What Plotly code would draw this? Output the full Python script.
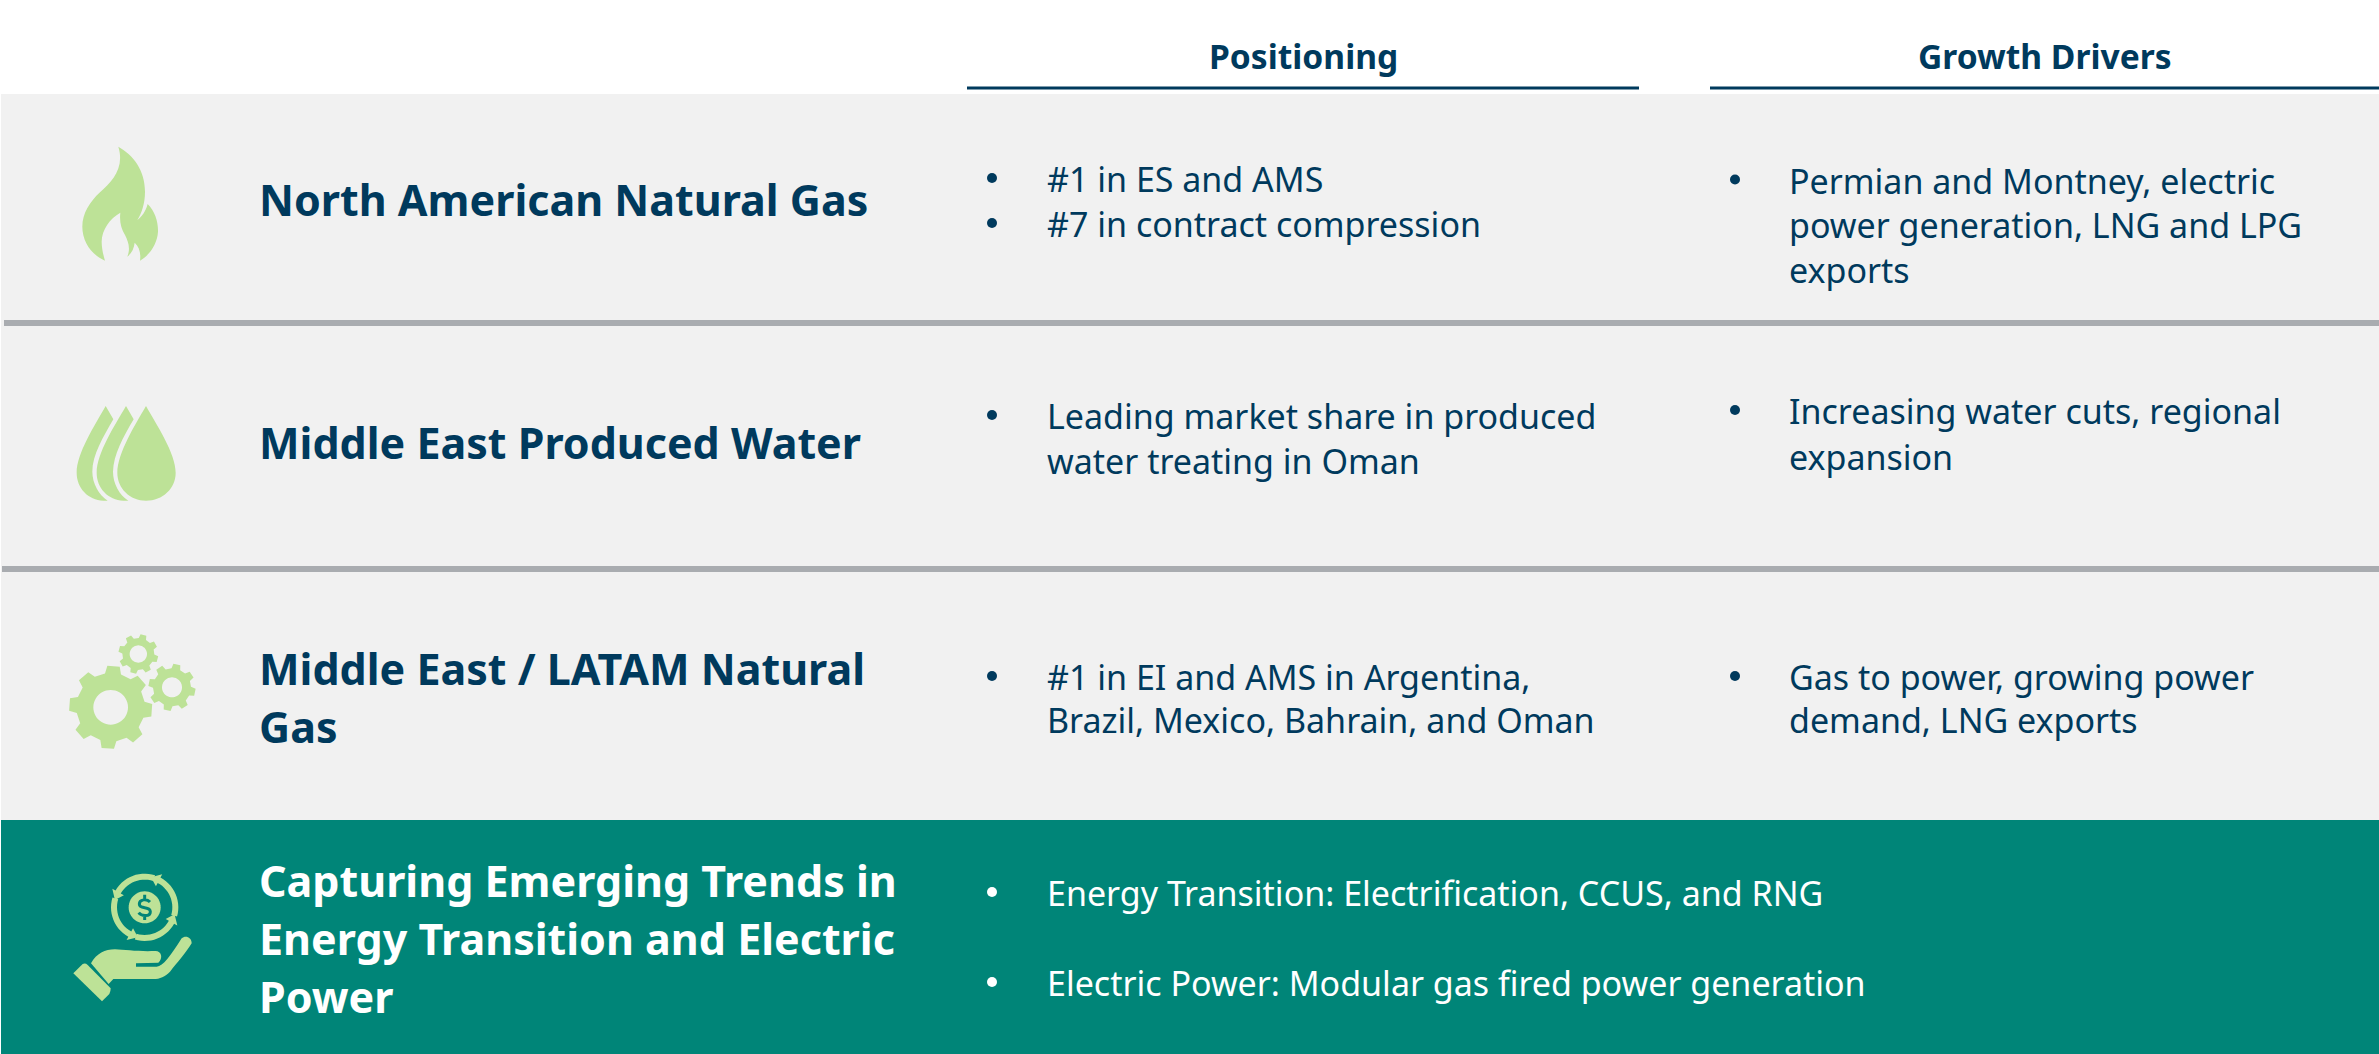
import math, re
import plotly.graph_objects as go

# ---------- content ----------
headers = ["Positioning", "Growth Drivers"]
row_titles = [
    ["North American Natural Gas"],
    ["Middle East Produced Water"],
    ["Middle East / LATAM Natural", "Gas"],
    ["Capturing Emerging Trends in", "Energy Transition and Electric", "Power"],
]
positioning = [
    [["#1 in ES and AMS"], ["#7 in contract compression"]],
    [["Leading market share in produced", "water treating in Oman"]],
    [["#1 in EI and AMS in Argentina,", "Brazil, Mexico, Bahrain, and Oman"]],
]
drivers = [
    [["Permian and Montney, electric", "power generation, LNG and LPG", "exports"]],
    [["Increasing water cuts, regional", "expansion"]],
    [["Gas to power, growing power", "demand, LNG exports"]],
]
emerging = ["Energy Transition: Electrification, CCUS, and RNG",
            "Electric Power: Modular gas fired power generation"]

# ---------- style ----------
W, H = 2379, 1054
NAVY = "#003A5D"
PANEL = "#F1F1F1"
TEAL = "#008578"
RULE = "#A9ACB0"
ICON = "#BDE297"
FONT = "Noto Sans"
TITLE_SIZE = 43
BODY_SIZE = 34
HEAD_SIZE = 33.6
TEXT_DY = 1.2

shapes, notes = [], []
bullet_x, bullet_y, bullet_c = [], [], []

def rect(x0, y0, x1, y1, color):
    shapes.append(dict(type="rect", x0=x0, y0=y0, x1=x1, y1=y1, fillcolor=color,
                       line=dict(width=0), layer="below"))

def text(x, y, s, size, color=NAVY, bold=False, anchor="left"):
    notes.append(dict(x=x, y=y, text=f"<b>{s}</b>" if bold else s, showarrow=False,
                      xanchor=anchor, yanchor="middle", align=anchor,
                      font=dict(family=FONT, size=size, color=color)))

def bullet(x, y, color=NAVY):
    bullet_x.append(x); bullet_y.append(y); bullet_c.append(color)

def z2f(path, oy):
    """crop coordinates (3x zoom) to figure pixels"""
    return re.sub(r"(-?[\d.]+),(-?[\d.]+)",
                  lambda m: f"{float(m[1])/3:.2f},{float(m[2])/3+oy:.2f}", path)

def icon(path, oy, color=ICON):
    shapes.append(dict(type="path", path=z2f(path, oy), fillcolor=color,
                       line=dict(width=0), layer="above"))

def circle_pts(cx, cy, r, n=48, rev=False):
    a = [2*math.pi*i/n for i in range(n)]
    if rev:
        a = a[::-1]
    return [(cx+r*math.cos(t), cy+r*math.sin(t)) for t in a]

def poly(pts):
    return "M" + " L".join(f"{x:.1f},{y:.1f}" for x, y in pts) + " Z"

def gear(cx, cy, ro, rr, rh, n, rot):
    pts = []
    step = 360/n
    for i in range(n):
        c = rot + i*step
        for da, r in [(-0.30, rr), (-0.19, ro), (0.19, ro), (0.30, rr)]:
            t = math.radians(c + da*step)
            pts.append((cx+r*math.sin(t), cy-r*math.cos(t)))
    return poly(pts) + " " + poly(circle_pts(cx, cy, rh, rev=True))

def arrow_arc(cx, cy, rm, hw, a0, a1, hl, hh):
    out, inner = [], []
    steps = 14
    for i in range(steps+1):
        t = math.radians(a0 + (a1-a0)*i/steps)
        out.append((cx+(rm+hw)*math.cos(t), cy-(rm+hw)*math.sin(t)))
        inner.append((cx+(rm-hw)*math.cos(t), cy-(rm-hw)*math.sin(t)))
    t = math.radians(a1)
    tt = t + hl/rm
    head = [(cx+(rm+hh)*math.cos(t), cy-(rm+hh)*math.sin(t)),
            (cx+rm*math.cos(tt), cy-rm*math.sin(tt)),
            (cx+(rm-hh)*math.cos(t), cy-(rm-hh)*math.sin(t))]
    return poly(out + head + inner[::-1])

# ---------- panels ----------
rect(1, 94, W, 820, PANEL)
rect(1, 820, W, H, TEAL)
rect(4, 320, W, 326, RULE)
rect(2, 566, W, 572, RULE)
rect(967, 86.5, 1639, 89.5, NAVY)
rect(1710, 86.5, W, 89.5, NAVY)

# ---------- headers ----------
text(1303, 56, headers[0], HEAD_SIZE, bold=True, anchor="center")
text(2045, 56, headers[1], HEAD_SIZE, bold=True, anchor="center")

# ---------- row titles ----------
title_y = [[199], [442], [668, 726], [880, 938, 996]]
for i, (lines, ys) in enumerate(zip(row_titles, title_y)):
    for s, y in zip(lines, ys):
        text(256.5, y, s, TITLE_SIZE, color="white" if i == 3 else NAVY, bold=True)

# ---------- body columns ----------
pos_y = [[[178], [223]], [[415, 460]], [[676, 719]]]
drv_y = [[[179.5, 224, 269]], [[410, 456]], [[676, 719]]]
for data, ys, bx, tx in [(positioning, pos_y, 992, 1044.5), (drivers, drv_y, 1735, 1786.5)]:
    for row, row_y in zip(data, ys):
        for item, item_y in zip(row, row_y):
            bullet(bx, item_y[0])
            for s, y in zip(item, item_y):
                text(tx, y + TEXT_DY, s, BODY_SIZE)

for s, y in zip(emerging, [892, 982]):
    bullet(992, y, "white")
    text(1044.5, y + TEXT_DY, s, BODY_SIZE, color="white")

# ---------- icons ----------
icon("M355,140 C400,165 435,210 435,275 C435,310 425,340 412,360 C425,350 437,335 443,312 "
     "C465,335 475,365 474,395 C472,430 450,465 420,482 C423,460 418,440 404,428 "
     "C402,445 395,460 382,470 C392,445 385,425 375,405 C363,385 358,365 361,338 "
     "C330,355 305,390 305,425 C305,445 310,465 315,482 C275,465 247,425 247,380 "
     "C247,340 270,305 300,277 C335,245 375,205 355,140 Z", 100)

icon("M438,918 C470,975 527,1060 527,1118 C527,1165 488,1202 438,1202 "
     "C390,1202 352,1165 352,1118 C352,1060 405,975 438,918 Z", 100)
icon("M378,918 L401,958 C370,1010 340,1065 339,1115 C339,1150 358,1185 385,1202 L370,1202 "
     "C325,1200 290,1165 290,1118 C290,1060 345,975 378,918 Z", 100)
icon("M317,918 L340,958 C310,1010 277,1065 277,1115 C277,1150 297,1185 323,1202 L310,1202 "
     "C265,1200 230,1165 230,1118 C230,1060 285,975 317,918 Z", 100)

icon(gear(332, 382, 125, 103, 52, 8, 4), 580)
icon(gear(415, 222, 60, 48, 26, 8, 15), 580)
icon(gear(516, 322, 71, 57, 30, 8, 12), 580)

for a0, a1 in [(72, 150), (163, 241), (253, 331), (344, 422)]:
    icon(arrow_arc(434, 982, 92, 9, a0, a1, 26, 20), 580)
icon(poly(circle_pts(434, 982, 48)), 580)
shapes.append(dict(type="path",
                   path=z2f("M450,966 C440,955 418,958 418,972 C418,990 451,976 451,995 "
                            "C451,1010 425,1010 416,998 M434,944 L434,958 M434,1008 L434,1020", 580),
                   line=dict(color=TEAL, width=3), layer="above"))
icon("M220,1180 L248,1152 Q256,1148 263,1155 L332,1225 Q332,1235 328,1242 L306,1264 Z", 580)
icon("M273,1150 C290,1120 315,1108 345,1108 C375,1110 420,1115 465,1113 C485,1112 490,1135 475,1148 "
     "L408,1150 L408,1160 L470,1160 C490,1158 510,1130 545,1075 C555,1065 575,1070 575,1090 "
     "C560,1115 530,1150 510,1175 C495,1190 480,1197 460,1197 L340,1197 L326,1212 Z", 580)

# ---------- figure ----------
fig = go.Figure(go.Scatter(x=bullet_x, y=bullet_y, mode="markers", hoverinfo="skip",
                           marker=dict(size=10, color=bullet_c, line=dict(width=0))))
fig.update_layout(
    width=W, height=H, margin=dict(l=0, r=0, t=0, b=0),
    paper_bgcolor="white", plot_bgcolor="white", showlegend=False,
    xaxis=dict(range=[0, W], visible=False, fixedrange=True),
    yaxis=dict(range=[H, 0], visible=False, fixedrange=True),
    shapes=shapes, annotations=notes,
)
fig.write_html("out.html", config=dict(displayModeBar=False),
               post_script="document.body.style.margin='0';document.body.style.overflow='hidden';")
